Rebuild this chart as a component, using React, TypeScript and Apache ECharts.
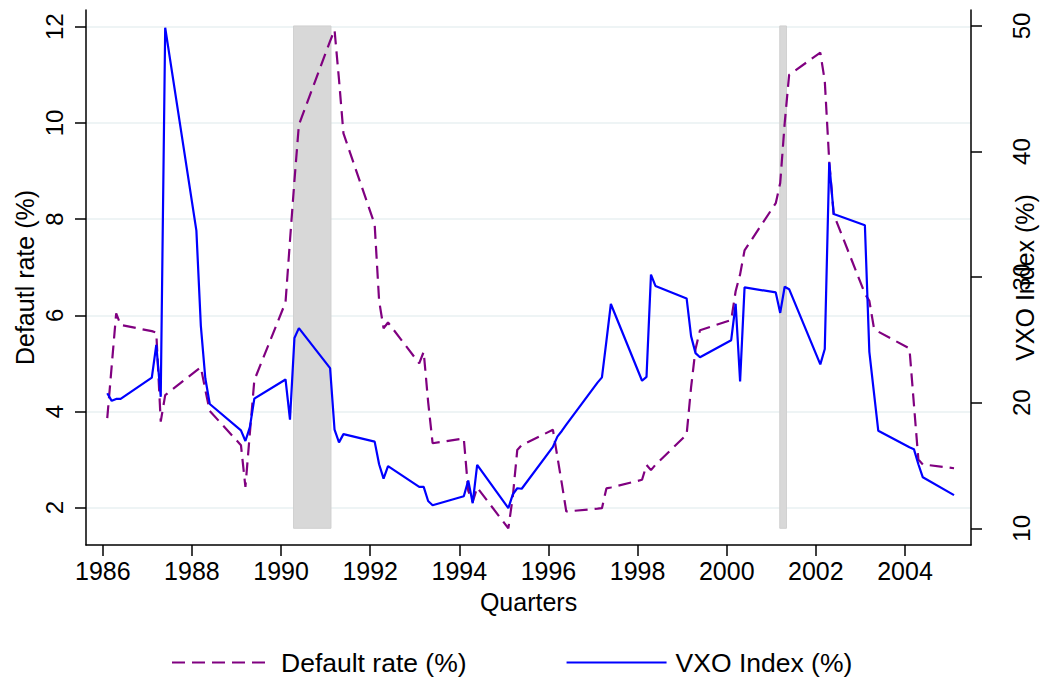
import React, { useEffect, useRef } from "react";
import * as echarts from "echarts";

const FONT = "'Liberation Sans', Arial, Helvetica, sans-serif";

// Quarters encoded as year.quarter (e.g. 1986.1 = 1986 Q1)
const quarters = [
  1986.1, 1986.2, 1986.3, 1986.4,
  1987.1, 1987.2, 1987.3, 1987.4,
  1988.1, 1988.2, 1988.3, 1988.4,
  1989.1, 1989.2, 1989.3, 1989.4,
  1990.1, 1990.2, 1990.3, 1990.4,
  1991.1, 1991.2, 1991.3, 1991.4,
  1992.1, 1992.2, 1992.3, 1992.4,
  1993.1, 1993.2, 1993.3, 1993.4,
  1994.1, 1994.2, 1994.3, 1994.4,
  1995.1, 1995.2, 1995.3, 1995.4,
  1996.1, 1996.2, 1996.3, 1996.4,
  1997.1, 1997.2, 1997.3, 1997.4,
  1998.1, 1998.2, 1998.3, 1998.4,
  1999.1, 1999.2, 1999.3, 1999.4,
  2000.1, 2000.2, 2000.3, 2000.4,
  2001.1, 2001.2, 2001.3, 2001.4,
  2002.1, 2002.2, 2002.3, 2002.4,
  2003.1, 2003.2, 2003.3, 2003.4,
  2004.1, 2004.2, 2004.3, 2004.4,
  2005.1,
];

const defaultRate = [
  3.86, 4.95, 6.04, 5.80,
  5.67, 5.64, 3.79, 4.34,
  4.85, 4.92, 4.45, 4.01,
  3.30, 2.43, 3.55, 4.65,
  6.27, 7.55, 8.80, 9.96,
  11.70, 11.93, 10.90, 9.78,
  7.89, 6.30, 5.73, 5.85,
  5.00, 5.24, 4.20, 3.34,
  3.44, 2.35, 2.12, 2.42,
  1.57, 2.23, 3.20, 3.30,
  3.62, 3.06, 2.50, 1.92,
  1.98, 1.99, 2.40, 2.42,
  2.58, 2.89, 2.78, 2.89,
  3.52, 4.50, 5.30, 5.69,
  5.90, 6.50, 6.85, 7.35,
  8.33, 8.75, 9.99, 11.00,
  11.46, 10.87, 9.20, 8.10,
  6.45, 6.30, 5.75, 5.66,
  5.31, 4.15, 3.00, 2.90,
  2.82,
];

const vxoIndex = [
  20.75, 20.15, 20.30, 20.30,
  22.00, 24.60, 20.47, 49.86,
  33.70, 26.12, 21.95, 19.90,
  17.80, 16.95, 18.05, 20.33,
  21.85, 18.65, 25.15, 25.94,
  22.75, 17.85, 16.84, 17.50,
  16.90, 15.10, 13.95, 14.95,
  13.30, 13.30, 12.17, 11.84,
  12.55, 13.80, 12.00, 15.05,
  11.61, 12.70, 13.19, 13.15,
  16.48, 17.30, 17.75, 18.25,
  21.60, 22.02, 24.90, 27.86,
  21.75, 22.05, 30.20, 29.30,
  28.30, 25.30, 23.95, 23.62,
  24.98, 27.88, 21.70, 29.18,
  28.78, 27.15, 29.23, 29.04,
  23.05, 24.28, 39.12, 35.02,
  34.13, 24.05, 20.90, 17.77,
  16.45, 16.30, 15.10, 14.06,
  12.64,
];

const recessionStarts = [1990.28, 2001.19];
const recessionEnds = [1991.12, 2001.34];

const xTicks = [1986, 1988, 1990, 1992, 1994, 1996, 1998, 2000, 2002, 2004];
const leftTicks = [2, 4, 6, 8, 10, 12];
const rightTicks = [10, 20, 30, 40, 50];

export default function App() {
  const ref = useRef<HTMLDivElement>(null);

  useEffect(() => {
    if (!ref.current) return;
    const chart = echarts.init(ref.current, undefined, { renderer: "svg" });

    const option: any = {
      animation: false,
      backgroundColor: "#ffffff",
      textStyle: { fontFamily: FONT, color: "#000" },
      grid: { left: 86, right: 69, top: 10, bottom: 132, containLabel: false, outerBoundsMode: "none" },
      legend: {
        data: ["Default rate (%)", "VXO Index (%)"],
        left: 171,
        top: 649,
        padding: 0,
        itemWidth: 100,
        itemHeight: 14,
        itemGap: 99,
        itemStyle: { color: "transparent", borderColor: "transparent", borderWidth: 0, opacity: 0 },
        textStyle: { fontSize: 26.5, color: "#000", fontFamily: FONT, padding: [0, 0, 0, 4] },
      },
      xAxis: {
        type: "value",
        min: 1985.623,
        max: 2005.481,
        name: "Quarters",
        nameLocation: "middle",
        nameGap: 44,
        nameMoveOverlap: false,
        nameTextStyle: { fontSize: 25, color: "#000", fontFamily: FONT },
        axisLine: { show: true, lineStyle: { color: "#000", width: 1.5 } },
        axisTick: { show: true, length: 11, customValues: xTicks, lineStyle: { color: "#000", width: 1.5 } },
        axisLabel: { customValues: xTicks, fontSize: 25, color: "#000", margin: 13, fontFamily: FONT, formatter: (v: number) => String(v) },
        splitLine: { show: false },
      },
      yAxis: [
        {
          type: "value",
          position: "left",
          min: 1.224,
          max: 12.347,
          name: "Defautl rate (%)",
          nameLocation: "middle",
          nameGap: 49,
          nameRotate: 90,
          nameMoveOverlap: false,
          nameTextStyle: { fontSize: 25, color: "#000", fontFamily: FONT },
          axisLine: { show: true, lineStyle: { color: "#000", width: 1.5 } },
          axisTick: { show: true, length: 11, customValues: leftTicks, lineStyle: { color: "#000", width: 1.5 } },
          axisLabel: { customValues: leftTicks, rotate: 90, fontSize: 24, color: "#000", margin: 20, fontFamily: FONT },
          splitLine: { show: true, lineStyle: { color: "#e8f0f2", width: 1.5 } },
        },
        {
          type: "value",
          position: "right",
          min: 8.67,
          max: 51.27,
          name: "VXO Index (%)",
          nameLocation: "middle",
          nameGap: 41,
          nameRotate: 90,
          nameMoveOverlap: false,
          nameTextStyle: { fontSize: 25, color: "#000", fontFamily: FONT },
          axisLine: { show: true, lineStyle: { color: "#000", width: 1.5 } },
          axisTick: { show: true, length: 11, customValues: rightTicks, lineStyle: { color: "#000", width: 1.5 } },
          axisLabel: { customValues: rightTicks, rotate: 90, fontSize: 24, color: "#000", margin: 38, fontFamily: FONT },
          splitLine: { show: false },
        },
      ],
      series: [
        {
          name: "Recessions",
          type: "line",
          yAxisIndex: 1,
          data: [],
          silent: true,
          z: 1,
          markArea: {
            silent: true,
            itemStyle: { color: "#d8d8d8", borderColor: "#d0d0d0", borderWidth: 1 },
            data: recessionStarts.map((s, i) => [
              { xAxis: s, yAxis: rightTicks[0] },
              { xAxis: recessionEnds[i], yAxis: rightTicks[rightTicks.length - 1] },
            ]),
          },
        },
        {
          name: "Default rate (%)",
          type: "line",
          yAxisIndex: 0,
          data: quarters.map((q, i) => [q, defaultRate[i]]),
          symbol: "none",
          z: 3,
          color: "#800080",
          lineStyle: { color: "#800080", width: 2.2, type: [13, 7] },
        },
        {
          name: "VXO Index (%)",
          type: "line",
          yAxisIndex: 1,
          data: quarters.map((q, i) => [q, vxoIndex[i]]),
          symbol: "none",
          z: 4,
          color: "#0000ff",
          lineStyle: { color: "#0000ff", width: 2.2 },
        },
      ],
    };

    chart.setOption(option);
    return () => chart.dispose();
  }, []);

  return (
    <div
      ref={ref}
      style={{ position: "absolute", left: 0, top: 0, width: 1040, height: 677, background: "#fff" }}
    />
  );
}
